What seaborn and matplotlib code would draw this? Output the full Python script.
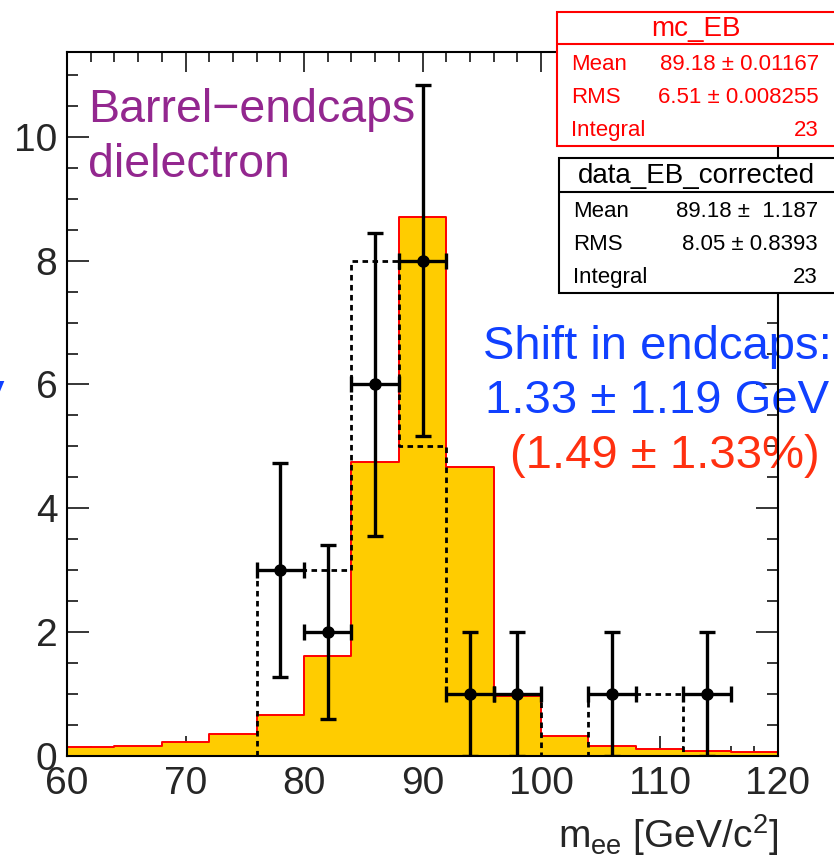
import numpy as np
import pandas as pd
import matplotlib
matplotlib.use("Agg")
import matplotlib.pyplot as plt
from matplotlib.patches import Rectangle
from matplotlib.lines import Line2D
from matplotlib.ticker import MultipleLocator
import seaborn as sns

# ---------------- data ----------------
bin_edges = [60, 64, 68, 72, 76, 80, 84, 88, 92, 96, 100, 104, 108, 112, 116, 120]
mc_counts = [0.14, 0.16, 0.22, 0.36, 0.67, 1.61, 4.75, 8.71, 4.66, 0.97, 0.32, 0.16, 0.11, 0.08, 0.06]
data_hist_counts = [0, 0, 0, 0, 3, 3, 8, 5, 1, 1, 0, 1, 1, 0, 0]
point_x = [78, 82, 86, 90, 94, 98, 106, 114]
point_y = [3, 2, 6, 8, 1, 1, 1, 1]
point_yerr = [1.73, 1.41, 2.45, 2.83, 1.0, 1.0, 1.0, 1.0]
point_xerr = [2, 2, 2, 2, 2, 2, 2, 2]

mc_stats = [("Mean", "89.18 \u00b1 0.01167"), ("RMS", "6.51 \u00b1 0.008255"), ("Integral", "23")]
data_stats = [("Mean", "89.18 \u00b1  1.187"), ("RMS", "8.05 \u00b1 0.8393"), ("Integral", "23")]

centers = [(a + b) / 2 for a, b in zip(bin_edges[:-1], bin_edges[1:])]
df_mc = pd.DataFrame({"m": centers, "w": mc_counts})
df_dh = pd.DataFrame({"m": centers, "w": data_hist_counts})

# ---------------- style ----------------
sns.set_style("ticks")
plt.rcParams["font.family"] = ["Liberation Sans", "DejaVu Sans"]
plt.rcParams["mathtext.fontset"] = "custom"
plt.rcParams["mathtext.rm"] = "Liberation Sans"
plt.rcParams["mathtext.it"] = "Liberation Sans:italic"

W, H = 834, 863
fig = plt.figure(figsize=(W / 100, H / 100), dpi=100)
L, R, T, B = 67, 778, 52, 756
ax = fig.add_axes([L / W, 1 - B / H, (R - L) / W, (B - T) / H])

def fx(px):
    return px / W

def fy(py):
    return 1 - py / H

# MC filled histogram
sns.histplot(data=df_mc, x="m", weights="w", bins=bin_edges, element="step",
             fill=True, color="#ffcc00", edgecolor="#ff0000", alpha=1.0,
             linewidth=1.4, ax=ax, zorder=1)
# data dashed histogram
sns.histplot(data=df_dh, x="m", weights="w", bins=bin_edges, element="step",
             fill=False, color="black", linewidth=2.0, linestyle=(0, (2, 1.6)),
             ax=ax, zorder=2)
# data points
ax.errorbar(point_x, point_y, xerr=point_xerr, yerr=point_yerr, fmt="o",
            color="black", ms=8, elinewidth=2.4, capsize=6, capthick=2.4,
            zorder=3)

ax.set_xlim(60, 120)
ax.set_ylim(0, 11.37)
ax.set_xlabel("")
ax.set_ylabel("")
ax.xaxis.set_major_locator(MultipleLocator(10))
ax.xaxis.set_minor_locator(MultipleLocator(2))
ax.yaxis.set_major_locator(MultipleLocator(2))
ax.yaxis.set_minor_locator(MultipleLocator(0.5))
ax.tick_params(axis="both", which="both", direction="in", top=True, right=True,
               labeltop=False, labelright=False, width=1.1, color="black")
ax.tick_params(axis="y", which="major", length=16, pad=7, labelsize=28)
ax.tick_params(axis="y", which="minor", length=8)
ax.tick_params(axis="x", which="major", length=14.5, pad=7, labelsize=28)
ax.tick_params(axis="x", which="minor", length=7.2)
ax.set_axisbelow(True)
for s in ax.spines.values():
    s.set_linewidth(1.5)
    s.set_color("black")
    s.set_visible(True)

# x label
fig.text(fx(778), fy(848), r"m$_{\mathrm{ee}}$ [GeV/c$^{\mathrm{2}}$]",
         ha="right", va="baseline", fontsize=28)

# annotation texts
tkw = dict(transform=fig.transFigure, va="baseline", clip_on=False, zorder=2)
ax.text(fx(88), fy(122), "Barrel\u2212endcaps", color="#93278f", fontsize=33.5, **tkw)
ax.text(fx(88), fy(177), "dielectron", color="#93278f", fontsize=33.5, **tkw)
ax.text(fx(483), fy(359), "Shift in endcaps:", color="#1040ff", fontsize=34, **tkw)
ax.text(fx(485), fy(413), "1.33 \u00b1 1.19 GeV", color="#1040ff", fontsize=34, **tkw)
ax.text(fx(510), fy(468), "(1.49 \u00b1 1.33%)", color="#ff3010", fontsize=34, **tkw)
fig.text(fx(4), fy(413), "V", color="#1040ff", fontsize=34, ha="right", va="baseline")

# stats boxes
def stat_box(x0, y0, y_sep, y1, color, title, title_base, rows, row_bases, val_right):
    fig.add_artist(Rectangle((fx(x0), fy(y1)), fx(W + 5 - x0), fy(y0) - fy(y1),
                             transform=fig.transFigure, facecolor="white",
                             edgecolor=color, linewidth=1.5, zorder=5))
    fig.add_artist(Line2D([fx(x0), fx(W + 5)], [fy(y_sep), fy(y_sep)],
                          transform=fig.transFigure, color=color, linewidth=1.5, zorder=6))
    fig.text(fx((x0 + W) / 2), fy(title_base), title, color=color, fontsize=20,
             ha="center", va="baseline", zorder=7)
    for (lab, val), yb in zip(rows, row_bases):
        fig.text(fx(x0 + 14), fy(yb), lab, color=color, fontsize=16,
                 ha="left", va="baseline", zorder=7)
        fig.text(fx(val_right), fy(yb), val, color=color, fontsize=16,
                 ha="right", va="baseline", zorder=7)

stat_box(557, 12, 44, 146, "#ff0000", "mc_EB", 36, mc_stats, [70, 103, 136], 819)
stat_box(559, 158, 192, 293, "black", "data_EB_corrected", 183, data_stats, [217, 250, 283], 818)

fig.savefig("out.png", dpi=100)
